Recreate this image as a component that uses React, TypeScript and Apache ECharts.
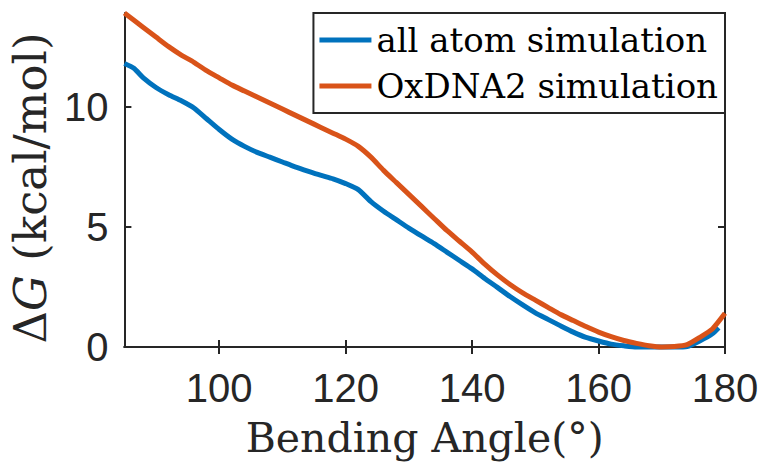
import React, { useEffect, useRef } from "react";
import * as echarts from "echarts";

const angleAllAtom = [85, 86.5, 88, 90, 92, 94, 96, 98, 100, 102, 104, 106, 108, 110, 112, 114, 116, 118, 120, 122, 124, 126, 128, 130, 132, 134, 136, 138, 140, 142, 144, 146, 148, 150, 152, 154, 156, 158, 160, 162, 164, 166, 168, 170, 172, 174, 176, 178, 179];
const allAtom = [11.8, 11.6, 11.2, 10.8, 10.5, 10.25, 9.95, 9.5, 9.05, 8.65, 8.35, 8.1, 7.9, 7.7, 7.5, 7.32, 7.15, 7.0, 6.8, 6.55, 6.05, 5.65, 5.3, 4.95, 4.62, 4.3, 3.95, 3.6, 3.25, 2.85, 2.48, 2.1, 1.75, 1.42, 1.15, 0.88, 0.62, 0.4, 0.25, 0.12, 0.05, 0.0, 0, 0, 0, 0.02, 0.25, 0.55, 0.8];

const angleOxDNA = [85, 88, 90, 92, 94, 96, 98, 100, 102, 104, 106, 108, 110, 112, 114, 116, 118, 120, 122, 124, 126, 128, 130, 132, 134, 136, 138, 140, 142, 144, 146, 148, 150, 152, 154, 156, 158, 160, 162, 164, 166, 168, 170, 172, 174, 176, 178, 180];
const oxDNA = [13.9, 13.3, 12.9, 12.5, 12.15, 11.85, 11.5, 11.2, 10.9, 10.65, 10.4, 10.15, 9.9, 9.65, 9.4, 9.15, 8.9, 8.65, 8.35, 7.9, 7.35, 6.85, 6.35, 5.85, 5.35, 4.85, 4.4, 3.95, 3.45, 3.0, 2.6, 2.25, 1.95, 1.65, 1.35, 1.1, 0.85, 0.62, 0.43, 0.27, 0.15, 0.05, 0.0, 0.02, 0.1, 0.4, 0.75, 1.4];

const xTicks = [100, 120, 140, 160, 180];
const yTicks = [0, 5, 10];
const seriesNames = ["all atom simulation", "OxDNA2 simulation"];

const AXIS = "#262626";

export default function App() {
  const ref = useRef<HTMLDivElement>(null);
  useEffect(() => {
    if (!ref.current) return;
    const chart = echarts.init(ref.current, undefined, { renderer: "svg" });
    const axisLine = { show: true, lineStyle: { color: AXIS, width: 2 } };
    const tickStyle = { show: true, inside: true, length: 7, lineStyle: { color: AXIS, width: 2 } };
    const labelFont = { color: AXIS, fontFamily: "Liberation Sans", fontSize: 40 };
    chart.setOption({
      animation: false,
      backgroundColor: "#ffffff",
      grid: { left: 118, right: 41, top: 13, bottom: 120, containLabel: false },
      legend: {
        data: seriesNames,
        orient: "vertical",
        right: 41,
        top: 13,
        icon: "rect",
        itemWidth: 52,
        itemHeight: 5,
        itemGap: 6,
        padding: [7, 7, 7, 6],
        backgroundColor: "#ffffff",
        borderColor: AXIS,
        borderWidth: 2,
        textStyle: { fontFamily: "DejaVu Serif", fontSize: 34, color: "#000", lineHeight: 40 },
      },
      xAxis: [
        {
          type: "value",
          min: 85,
          max: 180,
          position: "bottom",
          axisLine,
          axisTick: { ...tickStyle, customValues: xTicks },
          axisLabel: { ...labelFont, margin: 21, customValues: xTicks },
          splitLine: { show: false },
          name: "Bending Angle(°)",
          nameLocation: "middle",
          nameGap: 70,
          nameTextStyle: { fontFamily: "DejaVu Serif", fontSize: 41, color: AXIS },
        },
        {
          type: "value",
          min: 85,
          max: 180,
          position: "top",
          axisLine,
          axisTick: { ...tickStyle, customValues: xTicks },
          axisLabel: { show: false, customValues: xTicks },
          splitLine: { show: false },
        },
      ],
      yAxis: [
        {
          type: "value",
          min: 0,
          max: 13.9,
          position: "left",
          axisLine,
          axisTick: { ...tickStyle, customValues: yTicks },
          axisLabel: { ...labelFont, margin: 16, customValues: yTicks },
          splitLine: { show: false },
          name: "Δ{g|G} (kcal/mol)",
          nameLocation: "middle",
          nameGap: 59,
          nameTextStyle: {
            fontFamily: "DejaVu Serif",
            fontSize: 45,
            color: AXIS,
            padding: [0, 16, 0, 0],
            rich: { g: { fontFamily: "DejaVu Serif", fontSize: 45, fontStyle: "italic", color: AXIS } },
          },
        },
        {
          type: "value",
          min: 0,
          max: 13.9,
          position: "right",
          axisLine,
          axisTick: { ...tickStyle, customValues: yTicks },
          axisLabel: { show: false, customValues: yTicks },
          splitLine: { show: false },
        },
      ],
      series: [
        {
          name: seriesNames[0],
          type: "line",
          data: angleAllAtom.map((a, i) => [a, allAtom[i]]),
          showSymbol: false,
          symbol: "none",
          clip: false,
          smooth: 0.2,
          color: "#0072BD",
          lineStyle: { width: 5, color: "#0072BD" },
          z: 2,
        },
        {
          name: seriesNames[1],
          type: "line",
          data: angleOxDNA.map((a, i) => [a, oxDNA[i]]),
          showSymbol: false,
          symbol: "none",
          clip: false,
          smooth: 0.2,
          color: "#D95319",
          lineStyle: { width: 5, color: "#D95319" },
          z: 3,
        },
      ],
    });
    return () => chart.dispose();
  }, []);
  return <div ref={ref} style={{ position: "fixed", left: 0, top: 0, width: 766, height: 467 }} />;
}
